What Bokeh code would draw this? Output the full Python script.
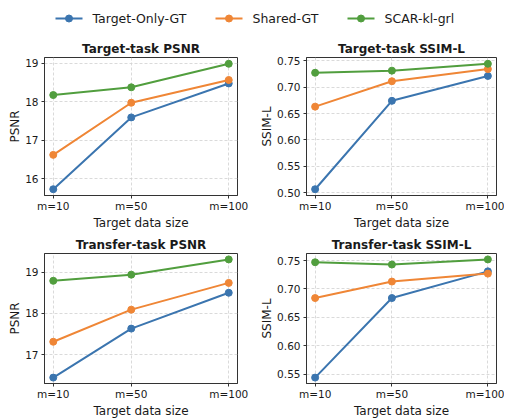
from bokeh.plotting import figure
from bokeh.layouts import column, row
from bokeh.models import (Range1d, FixedTicker, SingleIntervalTicker, PrintfTickFormatter,
                          ColumnDataSource)
from bokeh.core.properties import value
from bokeh.embed import file_html
from bokeh.resources import INLINE

# ---- data ----
sizes = [10, 50, 100]
size_labels = ["m=10", "m=50", "m=100"]
series_names = ["Target-Only-GT", "Shared-GT", "SCAR-kl-grl"]
series_colors = ["#3b75af", "#ef8636", "#519e3e"]

target_psnr_only = [15.73, 17.59, 18.47]
target_psnr_shared = [16.62, 17.97, 18.56]
target_psnr_scar = [18.17, 18.37, 18.98]

target_ssim_only = [0.507, 0.674, 0.721]
target_ssim_shared = [0.663, 0.711, 0.734]
target_ssim_scar = [0.727, 0.731, 0.744]

transfer_psnr_only = [16.44, 17.63, 18.50]
transfer_psnr_shared = [17.31, 18.09, 18.74]
transfer_psnr_scar = [18.79, 18.94, 19.31]

transfer_ssim_only = [0.544, 0.684, 0.731]
transfer_ssim_shared = [0.684, 0.713, 0.727]
transfer_ssim_scar = [0.747, 0.743, 0.752]

FONT = "DejaVu Sans"
TXT = "#1a1a1a"


def make_panel(title, ylabel, ys, interval, fmt, width, height, bl, br, bt, bb):
    allv = [v for s in ys for v in s]
    lo, hi = min(allv), max(allv)
    pad = 0.05 * (hi - lo)
    xpad = 0.05 * (max(sizes) - min(sizes))
    p = figure(width=width, height=height, toolbar_location=None, output_backend="svg",
               x_range=Range1d(min(sizes) - xpad, max(sizes) + xpad),
               y_range=Range1d(lo - pad, hi + pad),
               min_border_left=bl, min_border_right=br, min_border_top=bt, min_border_bottom=bb)
    p.title.text = title
    p.title.text_font = FONT
    p.title.text_font_size = "12px"
    p.title.text_font_style = "bold"
    p.title.align = "center"
    p.title.text_color = TXT
    p.title.standoff = 3
    p.outline_line_color = "#333333"
    p.outline_line_width = 1
    p.background_fill_color = "white"
    p.border_fill_color = "white"

    p.xaxis.ticker = FixedTicker(ticks=sizes)
    p.xaxis.major_label_overrides = {s: l for s, l in zip(sizes, size_labels)}
    p.xaxis.axis_label = "Target data size"
    p.yaxis.ticker = SingleIntervalTicker(interval=interval)
    p.yaxis.formatter = PrintfTickFormatter(format=fmt)
    p.yaxis.axis_label = ylabel
    for ax in (p.xaxis, p.yaxis):
        ax.axis_line_color = "#333333"
        ax.major_tick_line_color = "#333333"
        ax.major_tick_out = 3
        ax.major_tick_in = 0
        ax.minor_tick_line_color = None
        ax.major_label_text_font = FONT
        ax.major_label_text_font_size = "10.5px"
        ax.major_label_text_color = TXT
        ax.major_label_standoff = 2
        ax.axis_label_text_font = FONT
        ax.axis_label_text_font_size = "12px"
        ax.axis_label_text_font_style = "normal"
        ax.axis_label_text_color = TXT
    p.xaxis.axis_label_standoff = 1
    p.xaxis.major_label_standoff = 1
    p.yaxis.axis_label_standoff = 0
    p.grid.grid_line_color = "#d0d0d0"
    p.grid.grid_line_dash = "3 2"
    p.grid.grid_line_width = 0.8
    p.xgrid.ticker = FixedTicker(ticks=sizes)

    for vals, c in zip(ys, series_colors):
        src = ColumnDataSource(dict(x=sizes, y=vals))
        p.line("x", "y", source=src, line_color=c, line_width=2)
        p.scatter("x", "y", source=src, size=7, fill_color=c, line_color=c)
    return p


W1, W2 = 253, 251
H1, H2 = 196, 188
p1 = make_panel("Target-task PSNR", "PSNR",
                [target_psnr_only, target_psnr_shared, target_psnr_scar],
                1, "%d", W1, H1, 44, 16, 21, 33)
p2 = make_panel("Target-task SSIM-L", "SSIM-L",
                [target_ssim_only, target_ssim_shared, target_ssim_scar],
                0.05, "%.2f", W2, H1, 53, 8, 21, 33)
p3 = make_panel("Transfer-task PSNR", "PSNR",
                [transfer_psnr_only, transfer_psnr_shared, transfer_psnr_scar],
                1, "%d", W1, H2, 44, 16, 21, 33)
p4 = make_panel("Transfer-task SSIM-L", "SSIM-L",
                [transfer_ssim_only, transfer_ssim_shared, transfer_ssim_scar],
                0.05, "%.2f", W2, H2, 53, 8, 21, 33)

# legend strip drawn in a pixel-space figure (layout positions, not data)
LW, LH = W1 + W2, 36
lg = figure(width=LW, height=LH, toolbar_location=None, output_backend="svg",
            x_range=Range1d(0, LW), y_range=Range1d(LH, 0), x_axis_type=None, y_axis_type=None,
            min_border=0)
lg.outline_line_color = None
lg.grid.visible = False
key_left = [55, 215, 347]
key_len = 27
key_y = 18
for x0, name, c in zip(key_left, series_names, series_colors):
    lg.segment(x0=[x0], y0=[key_y], x1=[x0 + key_len], y1=[key_y], line_color=c, line_width=2)
    lg.scatter(x=[x0 + key_len / 2], y=[key_y], size=7, fill_color=c, line_color=c)
    lg.text(x=[x0 + key_len + 10], y=[key_y], text=[name], text_font=value(FONT),
            text_font_size="12.5px", text_color=TXT, text_baseline="middle", text_align="left")

layout = column(lg, row(p1, p2), row(p3, p4))
open("out.html", "w").write(file_html(layout, INLINE))
